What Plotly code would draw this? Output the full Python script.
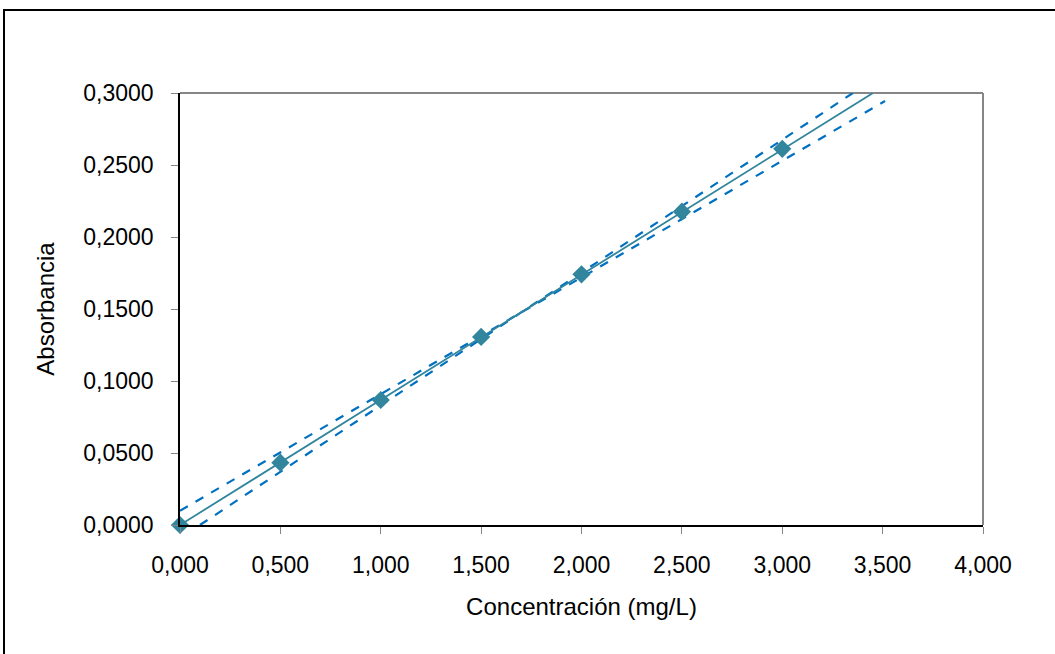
import plotly.graph_objects as go

# Data
conc = [0.0, 0.5, 1.0, 1.5, 2.0, 2.5, 3.0]
absorb = [0.0000, 0.0433, 0.0868, 0.1306, 0.1741, 0.2176, 0.2612]

# Fitted calibration line (solid)
fit_x = [0.0, 3.452]
fit_y = [0.0, 0.3000]

# Confidence lines (dashed)
band_a_x = [0.0, 3.512]
band_a_y = [0.0099, 0.2944]
band_b_x = [0.0996, 3.352]
band_b_y = [0.0, 0.3000]

x_ticks = [0, 0.5, 1.0, 1.5, 2.0, 2.5, 3.0, 3.5, 4.0]
y_ticks = [0, 0.05, 0.10, 0.15, 0.20, 0.25, 0.30]

teal = "#31859C"
blue = "#0070C0"

fig = go.Figure()
fig.add_trace(go.Scatter(x=band_a_x, y=band_a_y, mode="lines",
                         line=dict(color=blue, width=2.2, dash="dash"), showlegend=False))
fig.add_trace(go.Scatter(x=band_b_x, y=band_b_y, mode="lines",
                         line=dict(color=blue, width=2.2, dash="dash"), showlegend=False))
fig.add_trace(go.Scatter(x=fit_x, y=fit_y, mode="lines",
                         line=dict(color=teal, width=1.8), showlegend=False))
fig.add_trace(go.Scatter(x=conc, y=absorb, mode="markers",
                         marker=dict(symbol="diamond", size=14, color=teal),
                         showlegend=False, cliponaxis=False))

L, R, T, B = 180, 72, 93, 129
W, H = 1055, 654
pw, ph = W - L - R, H - T - B

fig.update_layout(
    width=W, height=H,
    margin=dict(l=L, r=R, t=T, b=B),
    paper_bgcolor="white", plot_bgcolor="white",
    separators=",.",
    font=dict(family="Liberation Sans, Arial, sans-serif", size=23, color="black"),
    xaxis=dict(range=[0, 4], tickvals=x_ticks, tickformat=".3f",
               showgrid=False, zeroline=False,
               showline=True, linecolor="black", linewidth=1.5,
               ticks="outside", ticklen=7, tickcolor="#868686", tickwidth=1,
               title=dict(text="Concentración (mg/L)", standoff=21,
                          font=dict(size=24)),
               ticklabelstandoff=12),
    yaxis=dict(range=[0, 0.3], tickvals=y_ticks, tickformat=".4f",
               showgrid=False, zeroline=False,
               showline=True, linecolor="black", linewidth=1.5,
               ticks="outside", ticklen=7, tickcolor="#868686", tickwidth=1,
               title=dict(text="Absorbancia", standoff=22, font=dict(size=24)),
               ticklabelstandoff=13),
)

# gray top and right plot-area border
fig.add_shape(type="line", xref="paper", yref="paper", x0=0, x1=1, y0=1, y1=1,
              line=dict(color="#868686", width=2), layer="below")
fig.add_shape(type="line", xref="paper", yref="paper", x0=1, x1=1, y0=0, y1=1,
              line=dict(color="#868686", width=2), layer="below")

# outer chart frame
fig.add_shape(type="rect", xref="paper", yref="paper",
              x0=(4 - L) / pw, x1=(W + 5 - L) / pw,
              y0=(T + ph - (H + 5)) / ph, y1=(T + ph - 10) / ph,
              line=dict(color="black", width=2), layer="below")

fig.write_html("out.html",
               config={"displayModeBar": False},
               post_script="document.body.style.margin='0';document.body.style.overflow='hidden';")
